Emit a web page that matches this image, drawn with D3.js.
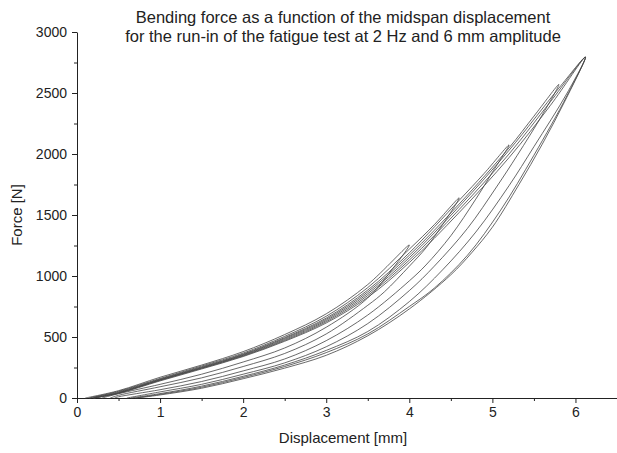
<!DOCTYPE html>
<html>
<head>
<meta charset="utf-8">
<script src="https://cdn.jsdelivr.net/npm/d3@7"></script>
<style>
  body { margin: 0; background: #fff; }
  text { font-family: "Liberation Sans", Arial, sans-serif; fill: #222; }
  .axis path, .axis line { stroke: #222; }
</style>
</head>
<body>
<svg width="617" height="453"></svg>
<script>
const svg = d3.select('svg');

// loops: loading branch (up to the peak) then unloading branch
// each point is [displacement mm, force N]
const loopA = [[0.1,0],[0.5,60],[1,170],[1.5,270],[2,380],[2.5,520],[3,690],[3.5,930],[4,1254],
  [3.8,1060],[3.5,820],[3,580],[2.5,410],[2,295],[1.5,195],[1,112],[0.5,35],[0.3,0]];
const loopB = [[0.15,0],[0.5,55],[1,160],[1.5,262],[2,368],[2.5,505],[3,670],[3.5,905],[4,1220],[4.3,1420],[4.6,1640],
  [4.4,1420],[4.2,1230],[4,1080],[3.7,870],[3.5,760],[3,525],[2.5,365],[2,258],[1.5,165],[1,92],[0.5,22],[0.4,0]];
const loopC = [[0.15,0],[0.5,50],[1,155],[1.5,255],[2,360],[2.5,495],[3,655],[3.5,885],[4,1190],[4.6,1620],[4.9,1840],[5.2,2074],
  [5,1850],[4.8,1630],[4.5,1330],[4.2,1090],[4,960],[3.5,680],[3,470],[2.5,320],[2,222],[1.5,135],[1,68],[0.5,10],[0.45,0]];
const loopD = [[0.2,0],[0.5,45],[1,150],[1.5,250],[2,355],[2.5,488],[3,645],[3.5,870],[4,1170],[4.6,1590],[5.2,2050],[5.5,2310],[5.8,2570],
  [5.6,2320],[5.3,1990],[5.05,1730],[4.7,1390],[4.3,1080],[4,880],[3.5,610],[3,420],[2.5,288],[2,195],[1.5,112],[1,50],[0.6,0]];
const loopE = [[0.2,0],[0.5,42],[1,148],[1.5,246],[2,350],[2.5,480],[3,635],[3.5,855],[4,1150],[4.6,1570],[5.2,2030],[5.8,2540],[6.12,2795],
  [5.9,2500],[5.5,2060],[5.2,1740],[4.8,1360],[4.4,1050],[4,790],[3.5,545],[3,390],[2.5,270],[2,178],[1.5,97],[1,36],[0.65,0]];
const loopF = [[0.2,0],[0.5,40],[1,145],[1.5,243],[2,345],[2.5,472],[3,625],[3.5,840],[4,1130],[4.6,1545],[5.2,2000],[5.7,2430],[6.12,2795],
  [5.9,2480],[5.5,1990],[5.1,1540],[4.7,1170],[4.3,900],[4,750],[3.5,525],[3,372],[2.5,258],[2,168],[1.5,88],[1,30],[0.7,0]];
const loopG = [[0.2,0],[0.5,38],[1,140],[1.5,238],[2,340],[2.5,465],[3,615],[3.5,825],[4,1110],[4.6,1520],[5.2,1970],[5.7,2400],[6.12,2795],
  [5.88,2443],[5.6,2080],[5.32,1750],[5,1400],[4.75,1190],[4.5,1010],[4,730],[3.5,510],[3,350],[2.5,245],[2,158],[1.5,80],[1,25],[0.72,0]];

const loops = [loopA, loopB, loopC, loopD, loopE, loopF, loopG];

const xTicks = [0, 1, 2, 3, 4, 5, 6];
const yTicks = [0, 500, 1000, 1500, 2000, 2500, 3000];
const titleLines = ['Bending force as a function of the midspan displacement',
                    'for the run-in of the fatigue test at 2 Hz and 6 mm amplitude'];

const x = d3.scaleLinear().domain([0, 6.5]).range([77, 617]);
const y = d3.scaleLinear().domain([0, 3000]).range([398, 32]);

// minor ticks first, then the major axis on top
svg.append('g').attr('class', 'axis')
    .attr('transform', 'translate(0,398)')
    .call(d3.axisBottom(x).tickValues(d3.range(0.5, 6.5, 1)).tickSize(3).tickFormat(''))
    .select('.domain').remove();
svg.append('g').attr('class', 'axis')
    .attr('transform', 'translate(77,0)')
    .call(d3.axisLeft(y).tickValues(d3.range(250, 3000, 500)).tickSize(3).tickFormat(''))
    .select('.domain').remove();

const xaxisG = svg.append('g').attr('class', 'axis')
    .attr('transform', 'translate(0,398)')
    .call(d3.axisBottom(x).tickValues(xTicks).tickSize(5).tickSizeOuter(0).tickPadding(4).tickFormat(d3.format('d')));
xaxisG.selectAll('text').attr('font-size', 14);

const yaxisG = svg.append('g').attr('class', 'axis')
    .attr('transform', 'translate(77,0)')
    .call(d3.axisLeft(y).tickValues(yTicks).tickSize(5).tickSizeOuter(0).tickPadding(5).tickFormat(d3.format('d')));
yaxisG.selectAll('text').attr('font-size', 14);

const line = d3.line()
    .x(d => x(d[0]))
    .y(d => y(d[1]))
    .curve(d3.curveCatmullRom.alpha(0.5));

svg.append('g').selectAll('path')
    .data(loops)
    .enter()
    .append('path')
    .attr('d', line)
    .attr('fill', 'none')
    .attr('stroke', '#444')
    .attr('stroke-opacity', 0.8)
    .attr('stroke-width', 1);

svg.append('g').selectAll('text')
    .data(titleLines)
    .enter()
    .append('text')
    .attr('x', 343)
    .attr('y', (d, i) => 23 + i * 19)
    .attr('text-anchor', 'middle')
    .attr('font-size', 16.5)
    .text(d => d);

svg.append('text')
    .attr('x', 343)
    .attr('y', 443)
    .attr('text-anchor', 'middle')
    .attr('font-size', 15)
    .text('Displacement [mm]');

svg.append('text')
    .attr('transform', 'translate(22,215) rotate(-90)')
    .attr('text-anchor', 'middle')
    .attr('font-size', 15)
    .text('Force [N]');
</script>
</body>
</html>
